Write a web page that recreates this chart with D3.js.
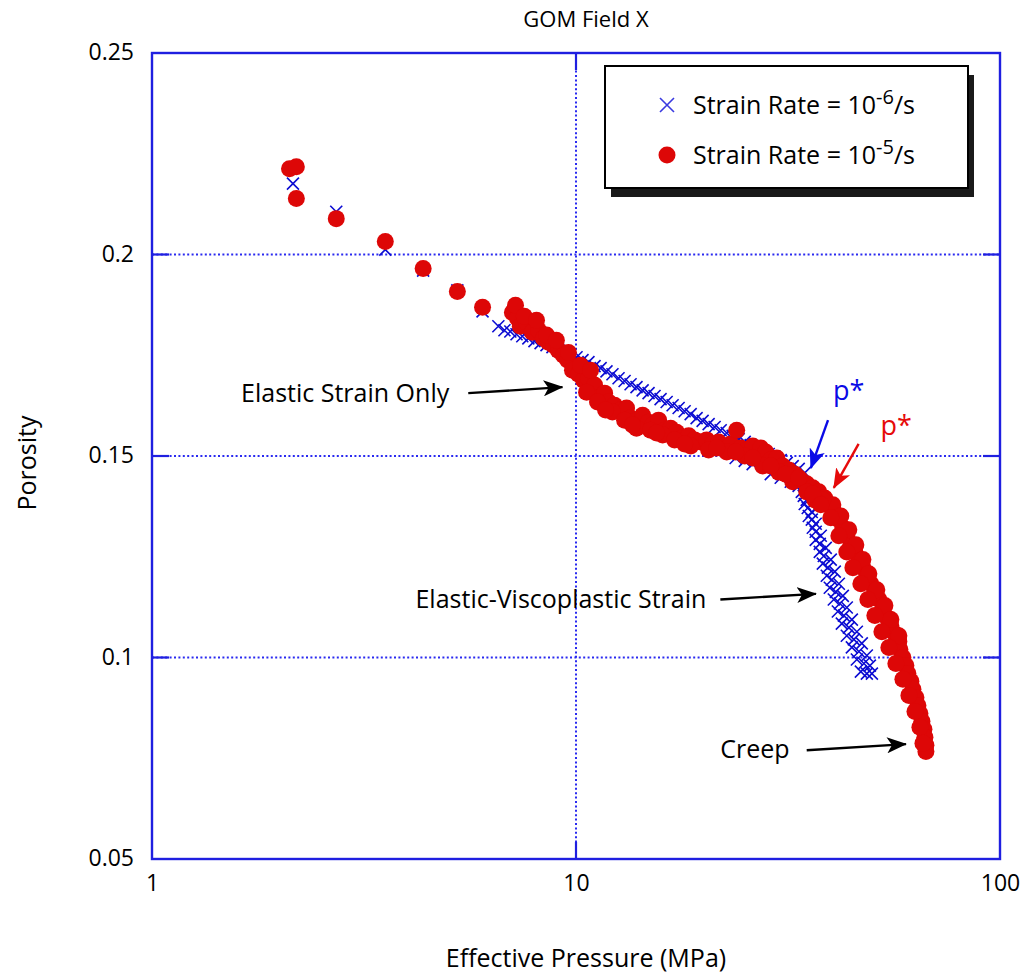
<!DOCTYPE html>
<html>
<head>
<meta charset="utf-8">
<script src="https://cdn.jsdelivr.net/npm/d3@7"></script>
<style>
  html, body { margin: 0; padding: 0; background: #fff; }
  svg { display: block; font-family: "Open Sans", "Noto Sans", sans-serif; }
</style>
</head>
<body>
<svg id="chart" width="1034" height="974"></svg>
<script>
// Effective pressure (MPa) and porosity for two strain rates, GOM Field X
const slowP = [2.15, 2.72, 3.55, 4.36, 5.25, 6.02,
  6.56, 6.78, 7.00, 7.24, 7.47, 7.72, 7.98, 8.25, 8.52, 8.80, 9.09, 9.39, 9.70, 10.03, 10.36, 10.70, 11.06, 11.43,
  11.80, 12.19, 12.60, 13.02, 13.45, 13.89, 14.36, 14.83, 15.32, 15.83, 16.36, 16.90, 17.46, 18.04, 18.64, 19.25,
  19.89, 20.55, 21.23, 21.94, 22.67, 23.42, 24.19, 25.00, 25.82, 26.68, 27.56, 28.48, 29.42, 30.40, 31.41, 32.44,
  33.52, 34.63,
  23.8, 25.0, 26.1, 28.8, 30.4, 32.1, 33.5,
  34.08, 34.63, 35.40, 36.18, 36.76, 37.58, 38.20, 39.04, 39.68, 40.55, 41.45, 42.36, 43.52, 44.73, 45.96, 46.97,
  35.01, 35.98, 36.76, 37.78, 38.82, 39.89, 40.77, 41.68, 42.59, 43.52, 44.73, 45.96, 47.21, 48.52, 49.33, 49.87,
  34.45, 35.20, 35.98, 36.76, 37.58, 38.41, 39.26, 40.12, 41.00, 41.91, 42.83, 44.01, 45.21, 46.47, 47.75, 48.52];
const slowPhi = [0.2176, 0.2106, 0.2012, 0.1960, 0.1911, 0.1859,
  0.1822, 0.1812, 0.1809, 0.1802, 0.1797, 0.1792, 0.1785, 0.1780, 0.1775, 0.1770, 0.1762, 0.1757, 0.1752, 0.1745, 0.1738, 0.1733, 0.1723, 0.1718,
  0.1710, 0.1703, 0.1693, 0.1686, 0.1678, 0.1671, 0.1663, 0.1656, 0.1649, 0.1641, 0.1634, 0.1626, 0.1619, 0.1611, 0.1604, 0.1594,
  0.1587, 0.1579, 0.1572, 0.1564, 0.1557, 0.1550, 0.1542, 0.1535, 0.1527, 0.1520, 0.1512, 0.1505, 0.1498, 0.1490, 0.1483, 0.1475,
  0.1468, 0.1458,
  0.1495, 0.1488, 0.1480, 0.1455, 0.1446, 0.1436, 0.1426,
  0.1411, 0.1381, 0.1351, 0.1322, 0.1292, 0.1262, 0.1233, 0.1203, 0.1173, 0.1144, 0.1114, 0.1084, 0.1054, 0.1025, 0.0995, 0.0965,
  0.1391, 0.1361, 0.1332, 0.1302, 0.1272, 0.1243, 0.1213, 0.1183, 0.1153, 0.1124, 0.1094, 0.1064, 0.1035, 0.1005, 0.0980, 0.0960,
  0.1401, 0.1371, 0.1342, 0.1312, 0.1282, 0.1252, 0.1223, 0.1193, 0.1163, 0.1134, 0.1104, 0.1074, 0.1045, 0.1015, 0.0985, 0.0960];

const fastP = [2.11, 2.19, 2.19, 2.72, 3.55, 4.36, 5.25, 6.02,
  7.08, 7.28, 7.39, 7.64, 7.89, 8.16, 8.38, 8.61, 8.85, 9.09, 9.34, 9.55, 9.81, 10.14, 10.42, 10.70, 11.06, 11.31,
  11.68, 11.93, 12.33, 12.74, 13.16, 13.45, 13.90, 14.36, 14.83, 15.16, 15.66, 16.18, 16.72, 17.27, 17.84, 18.44,
  19.05, 19.68, 20.33, 21.00, 21.69, 22.42, 23.17, 23.93, 24.46, 25.26, 26.11, 26.83, 27.27, 28.02, 28.79, 29.75,
  30.73, 31.75, 32.80, 33.89, 35.01, 36.17, 37.37, 38.60, 39.48, 40.55, 41.68, 42.59, 43.52, 44.48, 45.46, 46.47,
  47.49, 48.52, 49.59, 50.68, 51.80, 52.94, 54.10, 55.29, 56.50, 57.74, 58.06, 59.02, 59.98, 60.64, 61.64, 62.32,
  63.34, 64.03, 64.73, 65.45, 66.16, 66.52, 66.88, 66.88,
  40.34, 42.13, 44.00, 45.71, 47.49, 49.06, 51.23, 53.52, 55.29, 57.74,
  38.20, 39.89, 41.68, 43.52, 44.98, 46.97, 48.79, 50.68, 52.65, 54.69, 56.81, 59.02, 60.98, 63.01, 64.73, 65.81,
  7.20, 7.55, 8.07, 8.52, 8.99, 9.60, 10.25, 10.82, 10.59, 11.24, 12.19, 13.02, 13.89, 14.99, 16.01, 17.08,
  18.64, 20.55, 22.67, 25.00, 27.56, 30.07, 32.44, 35.01, 36.57,
  11.74, 13.59, 15.49, 18.04, 21.47, 23.80, 26.11, 28.79, 31.23, 33.52, 36.17, 37.78];
const fastPhi = [0.2213, 0.2218, 0.2139, 0.2089, 0.2032, 0.1965, 0.1908, 0.1869,
  0.1856, 0.1842, 0.1822, 0.1832, 0.1807, 0.1812, 0.1792, 0.1782, 0.1775, 0.1762, 0.1750, 0.1738, 0.1713, 0.1703, 0.1688, 0.1693, 0.1676, 0.1644,
  0.1656, 0.1634, 0.1626, 0.1614, 0.1619, 0.1594, 0.1589, 0.1601, 0.1584, 0.1577, 0.1589, 0.1564, 0.1569, 0.1559, 0.1545, 0.1550,
  0.1540, 0.1535, 0.1540, 0.1530, 0.1535, 0.1525, 0.1530, 0.1564, 0.1520, 0.1515, 0.1525, 0.1500, 0.1520, 0.1510, 0.1490, 0.1495,
  0.1475, 0.1465, 0.1455, 0.1441, 0.1431, 0.1421, 0.1411, 0.1396, 0.1379, 0.1361, 0.1342, 0.1322, 0.1302, 0.1280, 0.1262, 0.1243,
  0.1223, 0.1203, 0.1183, 0.1163, 0.1144, 0.1119, 0.1099, 0.1079, 0.1059, 0.1040, 0.1020, 0.1000, 0.0980, 0.0960, 0.0941, 0.0921,
  0.0901, 0.0881, 0.0861, 0.0842, 0.0822, 0.0802, 0.0782, 0.0767,
  0.1379, 0.1351, 0.1317, 0.1280, 0.1243, 0.1208, 0.1168, 0.1129, 0.1094, 0.1054,
  0.1391, 0.1347, 0.1302, 0.1262, 0.1223, 0.1183, 0.1144, 0.1104, 0.1064, 0.1025, 0.0985, 0.0946, 0.0906, 0.0866, 0.0827, 0.0787,
  0.1874, 0.1847, 0.1837, 0.1800, 0.1787, 0.1757, 0.1725, 0.1713, 0.1658, 0.1634, 0.1609, 0.1589, 0.1569, 0.1564, 0.1552, 0.1540,
  0.1525, 0.1515, 0.1510, 0.1500, 0.1475, 0.1460, 0.1436, 0.1411, 0.1391,
  0.1614, 0.1577, 0.1557, 0.1530, 0.1520, 0.1510, 0.1495, 0.1475, 0.1455, 0.1446, 0.1406, 0.1379];

const xTicks = [1, 10, 100];
const xTickLabels = ["1", "10", "100"];
const yTicks = [0.05, 0.1, 0.15, 0.2, 0.25];
const yTickLabels = ["0.05", "0.1", "0.15", "0.2", "0.25"];
const xGrid = [10];
const yGrid = [0.1, 0.15, 0.2];

// Annotation arrows: [label, fromP, fromPhi, toP, toPhi, colour]
const notes = [
  ["Elastic Strain Only", 5.57, 0.1656, 9.29, 0.1671, "#000"],
  ["Elastic-Viscoplastic Strain", 21.9, 0.1144, 36.8, 0.1158, "#000"],
  ["Creep", 35.0, 0.0770, 60.0, 0.0785, "#000"],
  ["p*", 39.3, 0.1589, 35.8, 0.1470, "#0a0ae6"],
  ["p*", 46.4, 0.1530, 40.55, 0.1421, "#e60a0a"]
];

const svg = d3.select("#chart");
const x = d3.scaleLog().domain([1, 100]).range([152, 1000]);
const y = d3.scaleLinear().domain([0.05, 0.25]).range([859, 53]);
const axisBlue = "#1f1fe0";
const FS = 25;

// dotted grid
const grid = svg.append("g");
grid.selectAll(".gx").data(xGrid).join("line")
  .attr("x1", d => x(d)).attr("x2", d => x(d))
  .attr("y1", y.range()[1]).attr("y2", y.range()[0])
  .attr("stroke", "#2a2af0").attr("stroke-width", 2).attr("stroke-dasharray", "2,2.4");
grid.selectAll(".gy").data(yGrid).join("line")
  .attr("y1", d => y(d)).attr("y2", d => y(d))
  .attr("x1", x.range()[0]).attr("x2", x.range()[1])
  .attr("stroke", "#2a2af0").attr("stroke-width", 2).attr("stroke-dasharray", "2,2.4");

// inner tick marks on all four sides
const tk = 17;
const ticks = svg.append("g").attr("stroke", axisBlue).attr("stroke-width", 2.2);
yGrid.forEach(v => {
  ticks.append("line").attr("x1", x.range()[0]).attr("x2", x.range()[0] + tk).attr("y1", y(v)).attr("y2", y(v));
  ticks.append("line").attr("x1", x.range()[1] - tk).attr("x2", x.range()[1]).attr("y1", y(v)).attr("y2", y(v));
});
xGrid.forEach(v => {
  ticks.append("line").attr("x1", x(v)).attr("x2", x(v)).attr("y1", y.range()[0]).attr("y2", y.range()[0] - tk);
  ticks.append("line").attr("x1", x(v)).attr("x2", x(v)).attr("y1", y.range()[1]).attr("y2", y.range()[1] + tk);
});

// slow strain rate: crosses
const slow = slowP.map((p, i) => ({ p, phi: slowPhi[i] }));
const fast = fastP.map((p, i) => ({ p, phi: fastPhi[i] }));
const s = 6;
svg.append("g").selectAll("path").data(slow).join("path")
  .attr("d", d => `M${x(d.p) - s},${y(d.phi) - s}L${x(d.p) + s},${y(d.phi) + s}M${x(d.p) - s},${y(d.phi) + s}L${x(d.p) + s},${y(d.phi) - s}`)
  .attr("stroke", "#0c0cd2").attr("stroke-width", 1.6).attr("fill", "none");

// fast strain rate: filled dots
svg.append("g").selectAll("circle").data(fast).join("circle")
  .attr("cx", d => x(d.p)).attr("cy", d => y(d.phi)).attr("r", 8.5)
  .attr("fill", "#dd0707");

// frame
svg.append("rect")
  .attr("x", x.range()[0]).attr("y", y.range()[1])
  .attr("width", x.range()[1] - x.range()[0]).attr("height", y.range()[0] - y.range()[1])
  .attr("fill", "none").attr("stroke", axisBlue).attr("stroke-width", 2.4);

// axes labels
const yAxis = d3.axisLeft(y).tickValues(yTicks)
  .tickFormat((d, i) => yTickLabels[i]).tickSize(0).tickPadding(18);
svg.append("g").attr("transform", `translate(${x.range()[0]},0)`).call(yAxis)
  .call(g => g.select(".domain").remove())
  .call(g => g.attr("font-size", 23).attr("font-family", null))
  .selectAll("text").attr("fill", "#000").attr("dy", "0.3em");

const xAxis = d3.axisBottom(x).tickValues(xTicks)
  .tickFormat((d, i) => xTickLabels[i]).tickSize(0).tickPadding(16);
svg.append("g").attr("transform", `translate(0,${y.range()[0]})`).call(xAxis)
  .call(g => g.select(".domain").remove())
  .call(g => g.attr("font-size", 23).attr("font-family", null))
  .selectAll("text").attr("fill", "#000");

svg.append("text").attr("x", 586).attr("y", 27).attr("text-anchor", "middle")
  .attr("font-size", 22).text("GOM Field X");
svg.append("text").attr("x", 586).attr("y", 967).attr("text-anchor", "middle")
  .attr("font-size", FS).text("Effective Pressure (MPa)");
svg.append("text").attr("transform", "translate(36,463) rotate(-90)").attr("text-anchor", "middle")
  .attr("font-size", FS).text("Porosity");

// arrowheads
const defs = svg.append("defs");
["#000", "#0a0ae6", "#e60a0a"].forEach((c, i) => {
  defs.append("marker").attr("id", "ah" + i).attr("viewBox", "0 0 20 16")
    .attr("refX", 19).attr("refY", 8).attr("markerWidth", 20).attr("markerHeight", 16)
    .attr("markerUnits", "userSpaceOnUse").attr("orient", "auto")
    .append("path").attr("d", "M0,0L20,8L0,16L5,8Z").attr("fill", c);
});
const headId = c => c === "#000" ? "ah0" : (c === "#0a0ae6" ? "ah1" : "ah2");
svg.append("g").selectAll("line").data(notes).join("line")
  .attr("x1", d => x(d[1])).attr("y1", d => y(d[2]))
  .attr("x2", d => x(d[3])).attr("y2", d => y(d[4]))
  .attr("stroke", d => d[5]).attr("stroke-width", 2.4)
  .attr("marker-end", d => `url(#${headId(d[5])})`);

// annotation labels
const ann = svg.append("g").attr("font-size", FS);
ann.append("text").attr("x", x(notes[0][1]) - 19).attr("y", y(notes[0][2]) + 9).attr("text-anchor", "end").text(notes[0][0]);
ann.append("text").attr("x", x(notes[1][1]) - 14).attr("y", y(notes[1][2]) + 9).attr("text-anchor", "end").text(notes[1][0]);
ann.append("text").attr("x", x(notes[2][1]) - 17).attr("y", y(notes[2][2]) + 8).attr("text-anchor", "end").text(notes[2][0]);
ann.append("text").attr("x", x(notes[3][1]) + 5).attr("y", y(notes[3][2]) - 20).attr("font-size", 27)
  .attr("fill", notes[3][5]).text(notes[3][0]);
ann.append("text").attr("x", x(notes[4][1]) + 22).attr("y", y(notes[4][2]) - 9).attr("font-size", 27)
  .attr("fill", notes[4][5]).text(notes[4][0]);

// legend
const lg = svg.append("g").attr("transform", "translate(605,66)");
lg.append("rect").attr("x", 6).attr("y", 9).attr("width", 363).attr("height", 122).attr("fill", "#1a1a1a");
lg.append("rect").attr("width", 363).attr("height", 122).attr("fill", "#fff").attr("stroke", "#000").attr("stroke-width", 2);
lg.append("path").attr("d", `M${62 - 7},${39 - 7}L${62 + 7},${39 + 7}M${62 - 7},${39 + 7}L${62 + 7},${39 - 7}`)
  .attr("stroke", "#3a3ae0").attr("stroke-width", 1.6);
lg.append("circle").attr("cx", 62).attr("cy", 89).attr("r", 8.5).attr("fill", "#dd0707");
[["-6", 48], ["-5", 98]].forEach(([e, yy]) => {
  const t = lg.append("text").attr("x", 88).attr("y", yy).attr("font-size", FS);
  t.append("tspan").text("Strain Rate = 10");
  t.append("tspan").attr("dy", -10).attr("font-size", 20).text(e);
  t.append("tspan").attr("dy", 10).text("/s");
});
</script>
</body>
</html>
